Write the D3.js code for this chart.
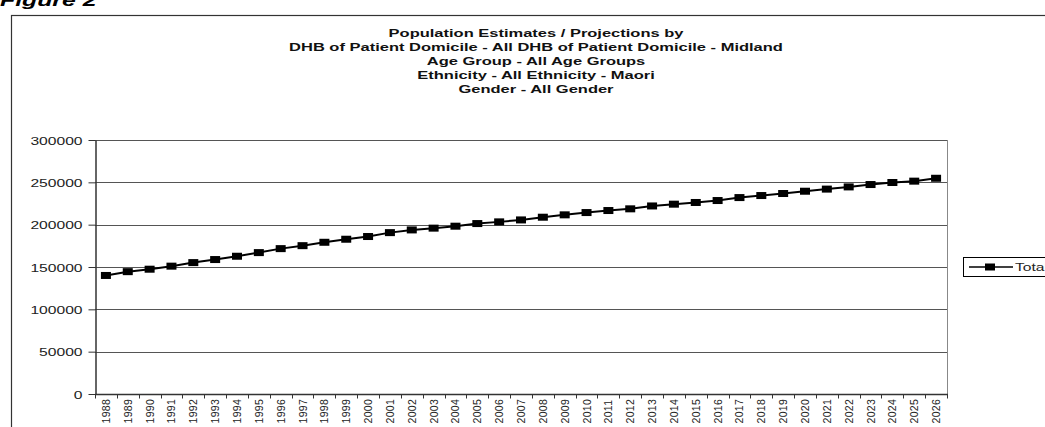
<!DOCTYPE html>
<html>
<head>
<meta charset="utf-8">
<script src="https://cdn.jsdelivr.net/npm/d3@7"></script>
<style>
  body { margin: 0; background: #fff; }
  svg { display: block; font-family: Arial, "Liberation Sans", sans-serif; }
</style>
</head>
<body>
<svg id="chart"></svg>
<script>
var width = 1045;
var height = 427;

// data
var years = ["1988","1989","1990","1991","1992","1993","1994","1995","1996","1997",
  "1998","1999","2000","2001","2002","2003","2004","2005","2006","2007",
  "2008","2009","2010","2011","2012","2013","2014","2015","2016","2017",
  "2018","2019","2020","2021","2022","2023","2024","2025","2026"];
var total = [140000,144500,147400,151000,155200,158800,162700,167000,171700,175200,
  179200,182800,186000,190600,193800,195900,198200,201300,203300,205600,
  208800,211600,214300,216700,218700,222100,224200,226200,228500,232000,
  234400,236800,239500,242000,244600,247400,249800,251400,254800];
var yTicks = [0,50000,100000,150000,200000,250000,300000];
var titleLines = [
  "Population Estimates / Projections by",
  "DHB of Patient Domicile - All DHB of Patient Domicile - Midland",
  "Age Group - All Age Groups",
  "Ethnicity - All Ethnicity - Maori",
  "Gender - All Gender"
];
var seriesName = "Total";

// the original picture is stretched sideways, so text gets a scaleX
var sx = 1.46;
var plot = { left: 95, right: 947, top: 140, bottom: 394 };

var svg = d3.select("#chart")
  .attr("width", width)
  .attr("height", height);

// "Figure 2" caption, cut off at the top
svg.append("text")
  .attr("transform", "translate(0,6) scale(" + sx + ",1)")
  .style("font-size", "17px")
  .style("font-weight", "bold")
  .style("font-style", "italic")
  .text("Figure 2");

// outer frame
svg.append("rect")
  .attr("x", 11.5).attr("y", 15.5)
  .attr("width", width + 20).attr("height", height + 20)
  .attr("fill", "none")
  .attr("stroke", "#333")
  .attr("stroke-width", 1.2);

// title
svg.append("g").selectAll("text")
  .data(titleLines)
  .enter().append("text")
  .attr("transform", function (d, i) { return "translate(536," + (36.5 + i * 14) + ") scale(" + sx + ",1)"; })
  .attr("text-anchor", "middle")
  .style("font-size", "11.3px")
  .style("font-weight", "bold")
  .attr("fill", "#111")
  .text(function (d) { return d; });

var x = d3.scaleBand()
  .domain(years)
  .range([plot.left, plot.right])
  .padding(0);

var y = d3.scaleLinear()
  .domain([0, 300000])
  .range([plot.bottom, plot.top]);

// gridlines
svg.append("g").selectAll("line")
  .data(yTicks.slice(1))
  .enter().append("line")
  .attr("x1", plot.left).attr("x2", plot.right)
  .attr("y1", function (d) { return Math.round(y(d)) + 0.5; })
  .attr("y2", function (d) { return Math.round(y(d)) + 0.5; })
  .attr("stroke", "#555")
  .attr("stroke-width", 1);

// right edge of plot area
svg.append("line")
  .attr("x1", plot.right + 0.5).attr("x2", plot.right + 0.5)
  .attr("y1", plot.top).attr("y2", plot.bottom)
  .attr("stroke", "#888");

// y axis
var yAxis = svg.append("g")
  .attr("transform", "translate(" + (plot.left + 0.5) + ",0)")
  .call(d3.axisLeft(y).tickValues(yTicks).tickSize(7).tickSizeOuter(0).tickFormat(d3.format("d")));
yAxis.select(".domain").attr("stroke", "#333").attr("stroke-width", 1.5);
yAxis.selectAll(".tick line").attr("stroke", "#333");
yAxis.selectAll(".tick text")
  .attr("x", null).attr("dy", null)
  .attr("transform", "translate(-13,4) scale(" + sx + ",1)")
  .style("font-size", "10.7px")
  .attr("fill", "#222");

// x axis, ticks between categories
var xAxis = svg.append("g")
  .attr("transform", "translate(0," + (plot.bottom + 0.5) + ")");
xAxis.append("line")
  .attr("x1", plot.left).attr("x2", plot.right + 1)
  .attr("stroke", "#333").attr("stroke-width", 1.5);
xAxis.selectAll(".xtick")
  .data(years.concat(["end"]))
  .enter().append("line")
  .attr("class", "xtick")
  .attr("x1", function (d, i) { return Math.round(plot.left + i * x.bandwidth()) + 0.5; })
  .attr("x2", function (d, i) { return Math.round(plot.left + i * x.bandwidth()) + 0.5; })
  .attr("y1", 0).attr("y2", 4)
  .attr("stroke", "#333");
xAxis.selectAll(".xlabel")
  .data(years)
  .enter().append("text")
  .attr("class", "xlabel")
  .attr("transform", function (d) { return "translate(" + (x(d) + x.bandwidth() / 2 + 4) + ",29) rotate(-90)"; })
  .style("font-size", "10.5px")
  .style("letter-spacing", "0.3px")
  .attr("fill", "#222")
  .text(function (d) { return d; });

// series line
var line = d3.line()
  .x(function (d, i) { return x(years[i]) + x.bandwidth() / 2; })
  .y(function (d) { return y(d); });

svg.append("path")
  .datum(total)
  .attr("d", line)
  .attr("fill", "none")
  .attr("stroke", "#000")
  .attr("stroke-width", 2);

svg.append("g").selectAll("rect")
  .data(total)
  .enter().append("rect")
  .attr("x", function (d, i) { return x(years[i]) + x.bandwidth() / 2 - 5; })
  .attr("y", function (d) { return y(d) - 3.5; })
  .attr("width", 10).attr("height", 7)
  .attr("fill", "#000");

// legend, cut off on the right
var legend = svg.append("g").attr("transform", "translate(963,257)");
legend.append("rect")
  .attr("x", 0.5).attr("y", 0.5)
  .attr("width", 120).attr("height", 19)
  .attr("fill", "#fff").attr("stroke", "#000");
legend.append("line")
  .attr("x1", 6).attr("x2", 50)
  .attr("y1", 10).attr("y2", 10)
  .attr("stroke", "#000").attr("stroke-width", 1.5);
legend.append("rect")
  .attr("x", 22).attr("y", 6.5)
  .attr("width", 10).attr("height", 7)
  .attr("fill", "#000");
legend.append("text")
  .attr("transform", "translate(52,14) scale(" + sx + ",1)")
  .style("font-size", "10.7px")
  .attr("fill", "#222")
  .text(seriesName);
</script>
</body>
</html>
